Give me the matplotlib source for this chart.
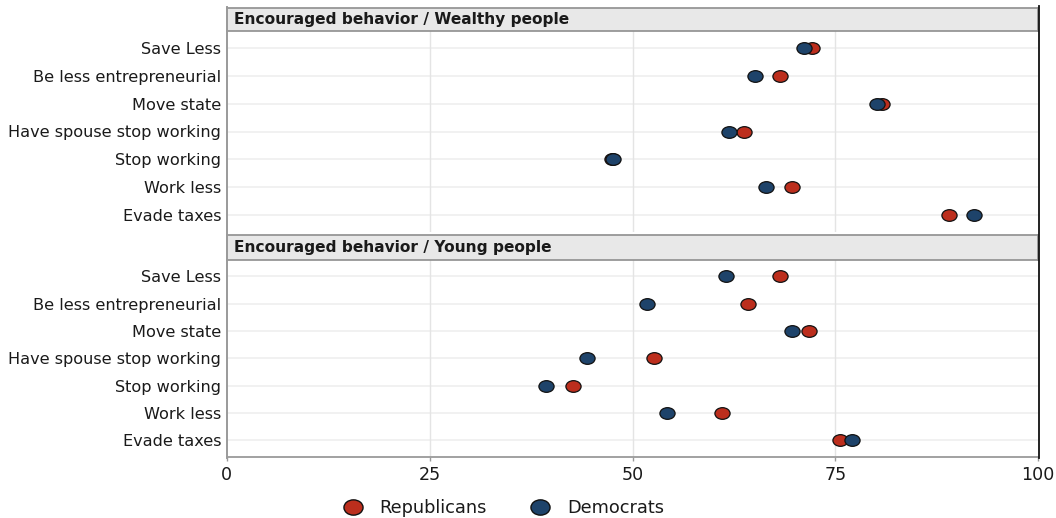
import matplotlib
matplotlib.use('Agg')
import matplotlib.pyplot as plt
from matplotlib.markers import MarkerStyle
from matplotlib.transforms import Affine2D
from matplotlib.lines import Line2D

# ---------------- data ----------------
categories = ["Save Less", "Be less entrepreneurial", "Move state",
              "Have spouse stop working", "Stop working", "Work less", "Evade taxes"]
panel_titles = ["Encouraged behavior / Wealthy people",
                "Encouraged behavior / Young people"]
wealthy_rep = [72.1, 68.2, 80.7, 63.7, 47.5, 69.7, 89.0]
wealthy_dem = [71.1, 65.1, 80.1, 61.9, 47.6, 66.5, 92.1]
young_rep = [68.2, 64.2, 71.8, 52.6, 42.7, 61.0, 75.6]
young_dem = [61.5, 51.8, 69.7, 44.4, 39.3, 54.2, 77.1]
series_labels = ["Republicans", "Democrats"]
x_ticks = [0, 25, 50, 75, 100]
x_tick_labels = ["0", "25", "50", "75", "100"]

# ---------------- style ----------------
W, H = 1056, 518
plt.rcParams['font.family'] = ['DejaVu Sans']
REP = '#BC2E1D'
DEM = '#1E436A'
TXT = '#1A1A1A'

def fx(px):
    return px / W

def fy(py):
    return 1 - py / H

fig = plt.figure(figsize=(W / 100, H / 100), dpi=100)

LEFT, RIGHT = 226.8, 1038.3
panels = [
    dict(top=31.0, bottom=232.0, s_top=8.0, s_bot=31.0, rep=wealthy_rep, dem=wealthy_dem),
    dict(top=260.0, bottom=456.5, s_top=235.0, s_bot=260.0, rep=young_rep, dem=young_dem),
]

ell = MarkerStyle('o', transform=Affine2D().scale(1.3, 1.0))
ypos = list(range(len(categories)))

for i, p in enumerate(panels):
    ax = fig.add_axes([fx(LEFT), fy(p['bottom']), (RIGHT - LEFT) / W,
                       (p['bottom'] - p['top']) / H])
    ax.set_xlim(0, 100)
    ax.set_ylim(len(categories) - 0.4, -0.6)
    for s in ax.spines.values():
        s.set_visible(False)
    ax.set_yticks(ypos)
    ax.set_yticklabels(categories, fontsize=11.6, color=TXT)
    ax.tick_params(axis='y', length=0, pad=4)
    ax.set_xticks(x_ticks)
    for yy in ypos:
        ax.axhline(yy, color='#F0F0F0', lw=1.3, zorder=0)
    for xx in x_ticks[1:-1]:
        ax.axvline(xx, color='#E4E4E4', lw=1.0, zorder=0)
    ax.plot(p['rep'], ypos, linestyle='none', marker=ell, markersize=8.4,
            markerfacecolor=REP, markeredgecolor='#111111', markeredgewidth=0.9, zorder=3)
    ax.plot(p['dem'], ypos, linestyle='none', marker=ell, markersize=8.4,
            markerfacecolor=DEM, markeredgecolor='#111111', markeredgewidth=0.9, zorder=4)
    if i == 0:
        ax.tick_params(axis='x', length=0, labelbottom=False)
    else:
        ax.spines['bottom'].set_visible(True)
        ax.spines['bottom'].set_color('#9A9A9A')
        ax.spines['bottom'].set_linewidth(1.3)
        ax.set_xticklabels(x_tick_labels, fontsize=12.6, color=TXT)
        ax.tick_params(axis='x', length=3, width=1, color='#9A9A9A', pad=4)

    # strip
    sax = fig.add_axes([fx(LEFT), fy(p['s_bot']), (RIGHT - LEFT) / W,
                        (p['s_bot'] - p['s_top']) / H])
    sax.set_facecolor('#E8E8E8')
    sax.set_xticks([])
    sax.set_yticks([])
    for s in sax.spines.values():
        s.set_color('#8E8E8E')
        s.set_linewidth(1.2)
    sax.text(7 / (RIGHT - LEFT), 0.5, panel_titles[i], transform=sax.transAxes,
             ha='left', va='center', fontsize=11.1, fontweight='bold', color=TXT)

# continuous outer lines
fig.add_artist(Line2D([fx(227.0), fx(227.0)], [fy(7), fy(457.5)], color='#9A9A9A', lw=1.4))
fig.add_artist(Line2D([fx(1038.6), fx(1038.6)], [fy(6), fy(457.5)], color='#111111', lw=1.3))

# legend
leg_ell = MarkerStyle('o', transform=Affine2D().scale(1.25, 1.0))
handles = [
    Line2D([], [], linestyle='none', marker=leg_ell, markersize=11,
           markerfacecolor=REP, markeredgecolor='#111111', markeredgewidth=1.0),
    Line2D([], [], linestyle='none', marker=leg_ell, markersize=11,
           markerfacecolor=DEM, markeredgecolor='#111111', markeredgewidth=1.0),
]
fig.legend(handles, series_labels, loc='center', ncol=2,
           bbox_to_anchor=(fx(503), fy(508)), frameon=False, fontsize=12.8,
           handlelength=1.2, handletextpad=0.9, columnspacing=2.4,
           labelcolor=TXT)

fig.savefig('out.png', dpi=100)
